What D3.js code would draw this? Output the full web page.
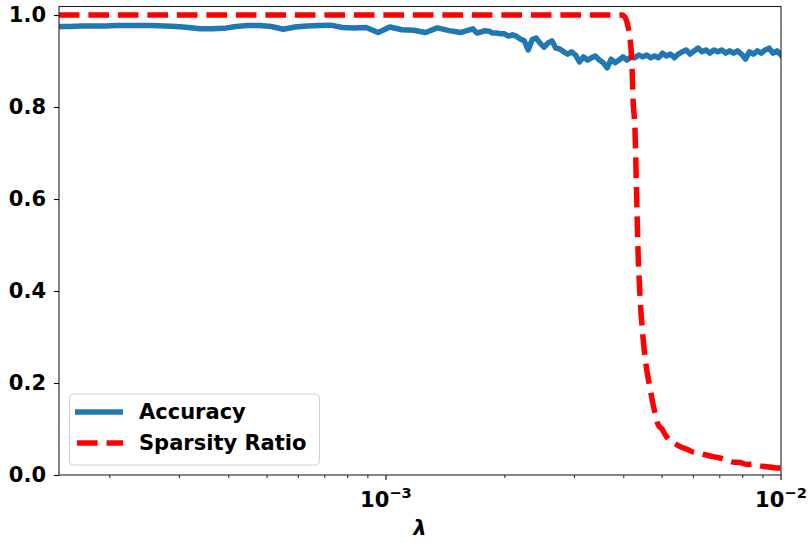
<!DOCTYPE html>
<html>
<head>
<meta charset="utf-8">
<script src="https://cdn.jsdelivr.net/npm/d3@7"></script>
<style>
  body { margin: 0; background: #fff; }
  svg { display: block; font-family: "DejaVu Sans", sans-serif; font-weight: bold; }
</style>
</head>
<body>
<svg id="chart" width="809" height="543"></svg>
<script>
// ---- data (log10 of λ) ----
const accLog10Lambda = [
  -3.828, -3.80, -3.77, -3.74, -3.71, -3.68, -3.65, -3.62, -3.59, -3.56,
  -3.53, -3.50, -3.47, -3.44, -3.41, -3.38, -3.35, -3.32, -3.29, -3.26,
  -3.23, -3.20, -3.17, -3.14, -3.11, -3.08, -3.05, -3.02, -2.99, -2.96,
  -2.93, -2.90, -2.87, -2.84, -2.81, -2.78,
  -2.77, -2.76, -2.75, -2.74, -2.73, -2.72, -2.71, -2.70, -2.69, -2.68,
  -2.67, -2.66, -2.65, -2.64, -2.63, -2.62, -2.61, -2.60, -2.59, -2.58,
  -2.57, -2.56, -2.55, -2.54, -2.53, -2.52, -2.51, -2.50, -2.49, -2.48,
  -2.47, -2.46, -2.45, -2.44, -2.43, -2.42, -2.41, -2.40, -2.39, -2.38,
  -2.37, -2.36, -2.35, -2.34, -2.33, -2.32, -2.31, -2.30, -2.29, -2.28,
  -2.27, -2.26, -2.25, -2.24, -2.23, -2.22, -2.21, -2.20, -2.19, -2.18,
  -2.17, -2.16, -2.15, -2.14, -2.13, -2.12, -2.11, -2.10, -2.09, -2.08,
  -2.07, -2.06, -2.05, -2.04, -2.03, -2.02, -2.01, -2.00
];
const accuracy = [
  0.975, 0.975, 0.976, 0.976, 0.976, 0.977, 0.977, 0.977, 0.977, 0.976,
  0.975, 0.973, 0.970, 0.970, 0.971, 0.975, 0.977, 0.977, 0.975, 0.969,
  0.974, 0.976, 0.977, 0.978, 0.973, 0.972, 0.973, 0.962, 0.974, 0.968,
  0.967, 0.962, 0.972, 0.966, 0.962, 0.970,
  0.961, 0.963, 0.966, 0.965, 0.961, 0.961, 0.959, 0.959, 0.954, 0.957,
  0.954, 0.948, 0.944, 0.924, 0.946, 0.950, 0.939, 0.930, 0.939, 0.944,
  0.928, 0.926, 0.920, 0.915, 0.920, 0.913, 0.898, 0.909, 0.902, 0.907,
  0.911, 0.902, 0.896, 0.885, 0.904, 0.896, 0.902, 0.909, 0.902, 0.909,
  0.907, 0.913, 0.909, 0.913, 0.907, 0.911, 0.907, 0.917, 0.911, 0.915,
  0.907, 0.915, 0.920, 0.924, 0.915, 0.922, 0.928, 0.920, 0.924, 0.917,
  0.924, 0.920, 0.924, 0.917, 0.922, 0.917, 0.922, 0.915, 0.904, 0.920,
  0.915, 0.922, 0.917, 0.924, 0.928, 0.917, 0.922, 0.913
];
const sparLog10Lambda = [
  -3.828, -2.4025, -2.3949, -2.3873, -2.3823, -2.3772, -2.3747, -2.3696, -2.3658, -2.3620,
  -2.3570, -2.3494, -2.3392, -2.3316, -2.3266, -2.3190, -2.3114, -2.3013, -2.2911, -2.2810,
  -2.2684, -2.2557, -2.2380, -2.2228, -2.2051, -2.1873, -2.1722, -2.1544, -2.1367, -2.1215,
  -2.1038, -2.0861, -2.0684, -2.0532, -2.0354, -2.0177, -2.0
];
const sparsity = [
  1.0, 1.0, 0.995, 0.975, 0.95, 0.89, 0.82, 0.75, 0.62, 0.49,
  0.39, 0.30, 0.225, 0.19, 0.165, 0.135, 0.11, 0.10, 0.085, 0.075,
  0.068, 0.062, 0.056, 0.050, 0.047, 0.043, 0.040, 0.037, 0.032, 0.028,
  0.027, 0.023, 0.024, 0.020, 0.018, 0.016, 0.015
];
const seriesNames = ["Accuracy", "Sparsity Ratio"];
const yTicks = [0.0, 0.2, 0.4, 0.6, 0.8, 1.0];
const xMajorTicks = [1e-3, 1e-2];
const xMajorExp = ["\u22123", "\u22122"];
const xMinorTicks = [2e-4, 3e-4, 4e-4, 5e-4, 6e-4, 7e-4, 8e-4, 9e-4,
                     2e-3, 3e-3, 4e-3, 5e-3, 6e-3, 7e-3, 8e-3, 9e-3];
const xDomain = [1.487e-4, 1e-2];
const yDomain = [0, 1.0185];

// ---- layout ----
const L = 59, R = 781, T = 6.5, B = 475;
const FS = 21;
const svg = d3.select("#chart");
const x = d3.scaleLog().domain(xDomain).range([L, R]);
const y = d3.scaleLinear().domain(yDomain).range([B, T]);

svg.append("defs").append("clipPath").attr("id", "clip")
  .append("rect").attr("x", L).attr("y", T).attr("width", R - L).attr("height", B - T);

const accData = accLog10Lambda.map((e, i) => ({ l: Math.pow(10, e), v: accuracy[i] }));
const sparData = sparLog10Lambda.map((e, i) => ({ l: Math.pow(10, e), v: sparsity[i] }));

const line = d3.line().x(d => x(d.l)).y(d => y(d.v));
const plot = svg.append("g").attr("clip-path", "url(#clip)");
plot.append("path").datum(accData).attr("d", line)
  .attr("fill", "none").attr("stroke", "#1f77b4").attr("stroke-width", 5.5)
  .attr("stroke-linejoin", "round").attr("stroke-linecap", "square");
plot.append("path").datum(sparData).attr("d", line.curve(d3.curveMonotoneX))
  .attr("fill", "none").attr("stroke", "#ff0000").attr("stroke-width", 5.5)
  .attr("stroke-dasharray", "20.6 8.9").attr("stroke-linejoin", "round");

// ---- axes ----
const yAxis = svg.append("g").attr("transform", `translate(${L},0)`)
  .call(d3.axisLeft(y).tickValues(yTicks).tickFormat(d3.format(".1f")).tickSize(5).tickPadding(8));
yAxis.select(".domain").remove();
yAxis.selectAll("text").attr("font-size", FS).attr("font-family", "DejaVu Sans").attr("font-weight", "bold").attr("fill", "#000");
yAxis.selectAll("line").attr("stroke", "#000").attr("stroke-width", 1.1);

const xAxis = svg.append("g").attr("transform", `translate(0,${B})`);
xAxis.selectAll(".minor").data(xMinorTicks).enter().append("line")
  .attr("x1", d => x(d)).attr("x2", d => x(d)).attr("y1", 0).attr("y2", 3)
  .attr("stroke", "#000").attr("stroke-width", 0.9);
xAxis.selectAll(".major").data(xMajorTicks).enter().append("line")
  .attr("x1", d => x(d)).attr("x2", d => x(d)).attr("y1", 0).attr("y2", 5)
  .attr("stroke", "#000").attr("stroke-width", 1.1);
const xl = xAxis.selectAll(".lab").data(xMajorTicks).enter().append("text")
  .attr("x", d => x(d)).attr("y", 32).attr("text-anchor", "middle")
  .attr("font-size", FS).attr("fill", "#000");
xl.append("tspan").text("10");
xl.append("tspan").attr("dy", -9).attr("font-size", 14.7).text((d, i) => xMajorExp[i]);

svg.append("text").attr("x", (L + R) / 2).attr("y", 535).attr("text-anchor", "middle")
  .attr("font-size", FS).attr("font-style", "italic").attr("fill", "#000").text("\u03bb");

// frame
svg.append("rect").attr("x", L).attr("y", T).attr("width", R - L).attr("height", B - T)
  .attr("fill", "none").attr("stroke", "#222").attr("stroke-width", 1.1);

// ---- legend ----
const lg = svg.append("g");
lg.append("rect").attr("x", 69.5).attr("y", 394).attr("width", 250).attr("height", 71)
  .attr("rx", 4).attr("fill", "#fff").attr("fill-opacity", 0.8)
  .attr("stroke", "#d0d0d0").attr("stroke-width", 1);
const legY = [412, 443];
lg.append("line").attr("x1", 75).attr("x2", 123).attr("y1", legY[0]).attr("y2", legY[0])
  .attr("stroke", "#1f77b4").attr("stroke-width", 5.5);
lg.append("line").attr("x1", 77).attr("x2", 123).attr("y1", legY[1]).attr("y2", legY[1])
  .attr("stroke", "#ff0000").attr("stroke-width", 5.5).attr("stroke-dasharray", "20.6 8.9");
lg.selectAll(".lt").data(seriesNames).enter().append("text")
  .attr("x", 139).attr("y", (d, i) => legY[i]).attr("dy", "0.35em")
  .attr("font-size", FS).attr("fill", "#000").text(d => d);
</script>
</body>
</html>
